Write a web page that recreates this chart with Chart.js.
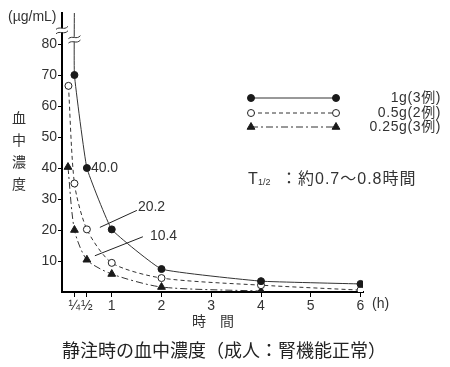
<!DOCTYPE html>
<html>
<head>
<meta charset="utf-8">
<script src="https://cdn.jsdelivr.net/npm/chart.js@4.4.1/dist/chart.umd.min.js"></script>
<style>
  html, body { margin: 0; padding: 0; background: #fff; }
  #wrap { width: 450px; height: 367px; }
</style>
</head>
<body>
<div id="wrap"><canvas id="chart" width="450" height="367"></canvas></div>
<script>
// data
const seriesNames = ['1g(3例)', '0.5g(2例)', '0.25g(3例)'];
const times1g = [0.25, 0.25, 0.5, 1, 2, 4, 6];
const conc1g = [95, 70, 40.0, 20.2, 7.4, 3.5, 2.6];   // first value is off the scale
const times05g = [0.13, 0.25, 0.5, 1, 2, 4, 6];
const conc05g = [66.5, 35, 20.2, 9.4, 4.5, 2.2, 0.6];
const times025g = [0.12, 0.25, 0.5, 1, 2, 4];
const conc025g = [40.3, 20, 10.4, 5.8, 1.6, 0.3];
const yTicks = [10, 20, 30, 40, 50, 60, 70, 80];
const xTicks = [0.25, 0.5, 1, 2, 3, 4, 5, 6];
const xTickLabels = ['¼', '½', '1', '2', '3', '4', '5', '6'];
const Y_MAX = 90;

const toPoints = (xs, ys) => xs.map((x, i) => ({ x: x, y: ys[i] }));
const textColor = '#333';
const lineColor = '#333';
const hideOffScale = (r) => (ctx) => (ctx.raw && ctx.raw.y > Y_MAX ? 0 : r);

const datasets = [
  {
    label: seriesNames[0],
    data: toPoints(times1g, conc1g),
    borderColor: lineColor,
    borderWidth: 1,
    tension: 0.1,
    pointStyle: 'circle',
    pointRadius: hideOffScale(3.5),
    pointBackgroundColor: '#1a1a1a',
    pointBorderColor: '#1a1a1a',
    pointBorderWidth: 1
  },
  {
    label: seriesNames[1],
    data: toPoints(times05g, conc05g),
    borderColor: lineColor,
    borderWidth: 1,
    borderDash: [4, 3],
    tension: 0.25,
    pointStyle: 'circle',
    pointRadius: 3.5,
    pointBackgroundColor: '#fff',
    pointBorderColor: '#222',
    pointBorderWidth: 1
  },
  {
    label: seriesNames[2],
    data: toPoints(times025g, conc025g),
    borderColor: lineColor,
    borderWidth: 1,
    borderDash: [7, 3, 2, 3],
    tension: 0.25,
    pointStyle: 'triangle',
    pointRadius: 4.5,
    pointBackgroundColor: '#1a1a1a',
    pointBorderColor: '#1a1a1a',
    pointBorderWidth: 1
  }
];

// value labels: dataset, index, text, label offset, leader start / end offsets
const callouts = [
  { ds: 0, idx: 2, text: '40.0', dx: 4, dy: 0, leader: null },
  { ds: 1, idx: 2, text: '20.2', dx: 51, dy: -22, leader: [13, -2, 50, -19] },
  { ds: 2, idx: 2, text: '10.4', dx: 63, dy: -24, leader: [8, -4, 56, -23] }
];

function wave(ctx, x, y, w) {
  ctx.beginPath();
  ctx.moveTo(x - w / 2, y + 1.5);
  ctx.bezierCurveTo(x - w / 6, y - 2, x + w / 6, y + 3, x + w / 2, y - 1.5);
  ctx.stroke();
}

function breakMark(ctx, x, y) {
  ctx.save();
  ctx.fillStyle = '#fff';
  ctx.fillRect(x - 3, y - 2, 6, 4);
  ctx.strokeStyle = '#333';
  ctx.lineWidth = 1;
  ctx.setLineDash([]);
  wave(ctx, x, y - 2.2, 12);
  wave(ctx, x, y + 2.2, 12);
  ctx.restore();
}

const annotate = {
  id: 'annotate',
  afterDraw(chart) {
    const ctx = chart.ctx;
    const xs = chart.scales.x;
    const ys = chart.scales.y;
    const area = chart.chartArea;
    ctx.save();
    ctx.fillStyle = textColor;
    ctx.textBaseline = 'middle';

    // breaks on the y axis and on the 1g line
    breakMark(ctx, area.left, ys.getPixelForValue(84.5));
    breakMark(ctx, xs.getPixelForValue(times1g[0]), ys.getPixelForValue(81.5));

    // unit, axis titles
    ctx.font = '14px "Liberation Sans", Arial, sans-serif';
    ctx.textAlign = 'left';
    ctx.fillText('(µg/mL)', 8, 17);
    ctx.fillText('(h)', area.right + 9, 304);
    ctx.font = '14px "Noto Sans CJK JP", sans-serif';
    ctx.textAlign = 'center';
    ['血', '中', '濃', '度'].forEach((c, i) => ctx.fillText(c, 19, 118 + i * 22));
    ctx.fillText('時　間', 213, 321);

    // caption
    ctx.font = '18px "Noto Sans CJK JP", sans-serif';
    ctx.textAlign = 'left';
    ctx.fillStyle = '#222';
    ctx.fillText('静注時の血中濃度（成人：腎機能正常）', 62, 350);

    // legend
    const legendY = [98, 113, 127];
    datasets.forEach((ds, i) => {
      const y = legendY[i];
      ctx.save();
      ctx.strokeStyle = lineColor;
      ctx.lineWidth = 1;
      ctx.setLineDash(ds.borderDash || []);
      ctx.beginPath();
      ctx.moveTo(251, y);
      ctx.lineTo(336, y);
      ctx.stroke();
      ctx.setLineDash([]);
      ctx.fillStyle = ds.pointBackgroundColor;
      ctx.strokeStyle = ds.pointBorderColor;
      const opts = { pointStyle: ds.pointStyle, radius: typeof ds.pointRadius === 'number' ? ds.pointRadius : 3.5, rotation: 0, borderWidth: 1 };
      Chart.helpers.drawPoint(ctx, opts, 251, y);
      Chart.helpers.drawPoint(ctx, opts, 336, y);
      ctx.restore();
      ctx.fillStyle = textColor;
      ctx.font = '14px "Liberation Sans", "Noto Sans CJK JP", sans-serif';
      ctx.letterSpacing = '0.6px';
      ctx.textAlign = 'right';
      ctx.fillText(ds.label, 441, y);
    });
    ctx.letterSpacing = '0px';

    // half-life
    ctx.textAlign = 'left';
    ctx.font = '16px "Liberation Sans", sans-serif';
    ctx.fillText('T', 248, 180);
    ctx.font = '9px "Liberation Sans", sans-serif';
    ctx.fillText('1/2', 258, 183);
    ctx.font = '16px "Liberation Sans", "Noto Sans CJK JP", sans-serif';
    ctx.letterSpacing = '1px';
    ctx.fillText('：約0.7～0.8時間', 281, 180);
    ctx.letterSpacing = '0px';

    // value callouts
    ctx.font = '14px "Liberation Sans", sans-serif';
    callouts.forEach((c) => {
      const p = chart.getDatasetMeta(c.ds).data[c.idx];
      if (c.leader) {
        ctx.strokeStyle = '#222';
        ctx.lineWidth = 1;
        ctx.beginPath();
        ctx.moveTo(p.x + c.leader[0], p.y + c.leader[1]);
        ctx.lineTo(p.x + c.leader[2], p.y + c.leader[3]);
        ctx.stroke();
      }
      ctx.fillStyle = textColor;
      ctx.fillText(c.text, p.x + c.dx, p.y + c.dy);
    });
    ctx.restore();
  }
};

new Chart(document.getElementById('chart'), {
  type: 'line',
  data: { datasets: datasets },
  plugins: [annotate],
  options: {
    responsive: false,
    animation: false,
    layout: { padding: { top: 13, left: 0, right: 87, bottom: 0 } },
    plugins: { legend: { display: false }, tooltip: { enabled: false } },
    scales: {
      x: {
        type: 'linear',
        min: 0,
        max: 6.05,
        afterFit: (s) => { s.height = 75; },
        afterBuildTicks: (s) => { s.ticks = xTicks.map(v => ({ value: v })); },
        grid: { drawOnChartArea: false, drawTicks: true, tickLength: 5, color: '#000' },
        border: { display: true, color: '#000', width: 2 },
        ticks: {
          color: textColor,
          padding: 1,
          maxRotation: 0,
          autoSkip: false,
          font: { family: '"Liberation Sans", Arial, sans-serif', size: 14 },
          callback: (v) => xTickLabels[xTicks.indexOf(v)]
        }
      },
      y: {
        min: 0,
        max: Y_MAX,
        afterFit: (s) => { s.width = 62; },
        afterBuildTicks: (s) => { s.ticks = yTicks.map(v => ({ value: v })); },
        grid: { drawOnChartArea: false, drawTicks: true, tickLength: 4, color: '#000' },
        border: { display: true, color: '#000', width: 2 },
        ticks: {
          color: textColor,
          padding: 1,
          font: { family: '"Liberation Sans", Arial, sans-serif', size: 14 }
        }
      }
    }
  }
});
</script>
</body>
</html>
